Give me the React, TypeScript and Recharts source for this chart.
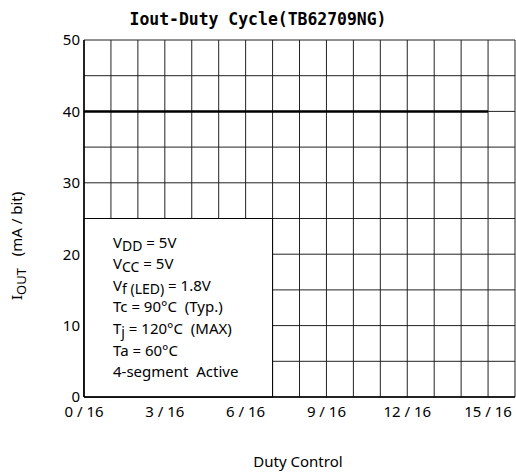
import { CartesianGrid, Line, LineChart, ReferenceArea, XAxis, YAxis } from "recharts";

// grid / tick positions (duty in 1/16 steps, current in mA)
const dutySteps = [0, 1, 2, 3, 4, 5, 6, 7, 8, 9, 10, 11, 12, 13, 14, 15, 16];
const dutyLabelSteps = [0, 3, 6, 9, 12, 15];
const ioutTicks = [0, 5, 10, 15, 20, 25, 30, 35, 40, 45, 50];
const ioutLabelTicks = [0, 10, 20, 30, 40, 50];

// the measured curve: flat 40 mA up to 15/16
const lineDuty = [0, 15];
const lineIout = [40, 40];

// conditions box covers duty 0..7/16, Iout 0..25
const boxDuty = [0, 7];
const boxIout = [0, 25];

const data = lineDuty.map((d, i) => ({ duty: d, iout: lineIout[i] }));

const FONT = "'Noto Sans', 'Open Sans', sans-serif";

function Conditions({ viewBox }: any) {
  const x = viewBox.x + 29;
  const y0 = viewBox.y + 29;
  const step = 21.6;
  const sub = { fontSize: 14 };
  return (
    <text x={x} y={y0} fontFamily={FONT} fontSize={15} fill="#000" style={{ whiteSpace: "pre" }}>
      <tspan x={x} y={y0}>V</tspan>
      <tspan dy={3} {...sub}>DD</tspan>
      <tspan dy={-3}> = 5V</tspan>
      <tspan x={x} y={y0 + step}>V</tspan>
      <tspan dy={3} {...sub}>CC</tspan>
      <tspan dy={-3}> = 5V</tspan>
      <tspan x={x} y={y0 + step * 2}>V</tspan>
      <tspan dy={3} {...sub}>f (LED)</tspan>
      <tspan dy={-3}> = 1.8V</tspan>
      <tspan x={x} y={y0 + step * 3}>Tc = 90°C  (Typ.)</tspan>
      <tspan x={x} y={y0 + step * 4}>T</tspan>
      <tspan dy={3} {...sub}>j</tspan>
      <tspan dy={-3}> = 120°C  (MAX)</tspan>
      <tspan x={x} y={y0 + step * 5}>Ta = 60°C</tspan>
      <tspan x={x} y={y0 + step * 6}>4-segment  Active</tspan>
    </text>
  );
}

export default function App() {
  return (
    <div style={{ position: "absolute", left: 0, top: 0, width: 516, height: 475, background: "#fff" }}>
      <LineChart
        width={516}
        height={475}
        data={data}
        margin={{ top: 40, right: 1, bottom: 48, left: 0 }}
      >
        <CartesianGrid stroke="#222" strokeWidth={1} />
        <XAxis
          dataKey="duty"
          type="number"
          domain={[0, 16]}
          ticks={dutySteps}
          interval={0}
          height={30}
          tickFormatter={(v: number) => (dutyLabelSteps.includes(v) ? `${v} / 16` : "")}
          tickLine={false}
          tickSize={6}
          tickMargin={3}
          axisLine={{ stroke: "#000", strokeWidth: 1.5 }}
          tick={{ fill: "#000", fontSize: 15, fontFamily: FONT }}
        />
        <YAxis
          type="number"
          domain={[0, 50]}
          ticks={ioutTicks}
          interval={0}
          width={84}
          tickFormatter={(v: number) => (ioutLabelTicks.includes(v) ? `${v}` : "")}
          tickLine={false}
          tickSize={4}
          tickMargin={0}
          axisLine={{ stroke: "#000", strokeWidth: 1.5 }}
          tick={{ fill: "#000", fontSize: 15, fontFamily: FONT }}
        />
        <ReferenceArea
          x1={boxDuty[0]}
          x2={boxDuty[1]}
          y1={boxIout[0]}
          y2={boxIout[1]}
          fill="#fff"
          fillOpacity={1}
          stroke="#000"
          strokeWidth={1}
          ifOverflow="visible"
          label={<Conditions />}
        />
        <Line
          dataKey="iout"
          type="linear"
          stroke="#000"
          strokeWidth={2.5}
          dot={false}
          isAnimationActive={false}
        />
      </LineChart>
      <svg
        width={516}
        height={475}
        style={{ position: "absolute", left: 0, top: 0, pointerEvents: "none" }}
      >
        <text
          x={258}
          y={25}
          textAnchor="middle"
          fontFamily="'DejaVu Sans Mono', monospace"
          fontWeight="bold"
          fontSize={18}
          textLength={257}
          lengthAdjust="spacingAndGlyphs"
          fill="#000"
        >
          Iout-Duty Cycle(TB62709NG)
        </text>
        <text
          transform="translate(22,300) rotate(-90)"
          fontFamily={FONT}
          fontSize={15}
          fill="#000"
          style={{ whiteSpace: "pre" }}
        >
          I<tspan dy={4} fontSize={13}>OUT</tspan>
          <tspan dy={-4}>{"   (mA / bit)"}</tspan>
        </text>
        <text x={298} y={467} textAnchor="middle" fontFamily={FONT} fontSize={15} fill="#000">
          Duty Control
        </text>
      </svg>
    </div>
  );
}
